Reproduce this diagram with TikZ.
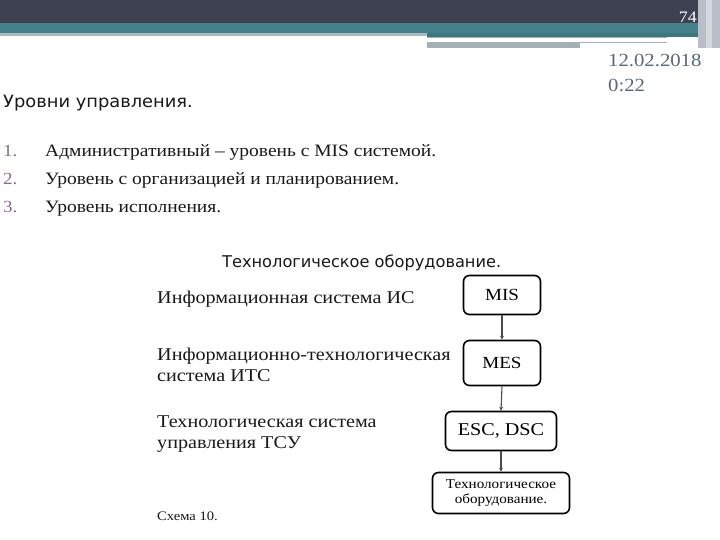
\documentclass[tikz,border=0pt]{standalone}
\usepackage{fontspec}
\setmainfont{Liberation Serif}[FakeStretch=1.12]
\newfontfamily\titlefont{DejaVu Sans}[FakeStretch=1.05]
\newfontfamily\headfont{DejaVu Sans}
\usetikzlibrary{arrows.meta}
\definecolor{hdark}{HTML}{3E4152}
\definecolor{hteal}{HTML}{45818A}
\definecolor{hteal2}{HTML}{3C7780}
\definecolor{hlight}{HTML}{A8BCC0}
\definecolor{hgray}{HTML}{A3B1B5}
\definecolor{hside}{HTML}{B9BEC8}
\definecolor{numcol}{HTML}{8A6A8C}
\definecolor{datecol}{HTML}{5A6A74}
\definecolor{linkcol}{HTML}{4A4A58}
\tikzset{
  txt/.style={anchor=base west, inner sep=0pt, text=black!90},
  listtxt/.style={txt, font=\fontsize{17.4}{20}\selectfont},
  numtxt/.style={txt, text=numcol, font=\fontsize{17}{20}\selectfont},
  lbl/.style={txt, font=\fontsize{18}{21}\selectfont, align=left},
  box/.style={draw=black, line width=1.6pt, rounded corners=6pt, inner sep=0pt, align=center},
  link/.style={draw=linkcol, line width=1.1pt, -{Stealth[length=4pt,width=4pt]}}
}
\begin{document}
\begin{tikzpicture}[x=1pt,y=-1pt]
\useasboundingbox (0,0) rectangle (720,540);
\fill[white] (0,0) rectangle (720,540);
% header
\fill[hdark] (0,0) rectangle (720,23);
\fill[hteal] (0,23) rectangle (720,33);
\fill[hlight] (0,33) rectangle (427,36);
\fill[hteal2] (427,33) rectangle (700,37);
\fill[hgray] (427,37) rectangle (667,38);
\fill[white] (427,38) rectangle (667,42);
\fill[hgray] (427,42) rectangle (667,43);
\fill[hgray] (427,43) rectangle (580,48);
\fill[hside] (698,0) rectangle (720,48);
\fill[hside!60] (706,0) rectangle (712,48);
\node[anchor=base east, inner sep=0pt, text=white, font=\fontsize{16}{18}\selectfont] (pg) at (697,23) {74};
% date
\node[txt, text=datecol, font=\fontsize{18.5}{22}\selectfont] (d1) at (608,67) {12.02.2018};
\node[txt, text=datecol, font=\fontsize{18.5}{22}\selectfont] (d2) at (608,92) {0:22};
% title
\node[txt, font=\titlefont\fontsize{17}{20}\selectfont] (title) at (3,108) {Уровни управления.};
% list
\node[numtxt] (n1) at (3,157) {1.};
\node[listtxt] (l1) at (45,157) {Административный -- уровень с MIS системой.};
\node[numtxt] (n2) at (3,185) {2.};
\node[listtxt] (l2) at (45,185) {Уровень с организацией и планированием.};
\node[numtxt] (n3) at (3,212) {3.};
\node[listtxt] (l3) at (45,212) {Уровень исполнения.};
% heading
\node[txt, font=\headfont\fontsize{16.2}{19}\selectfont] (head) at (222,267) {Технологическое оборудование.};
% left labels
\node[lbl] (a1) at (157,303) {Информационная система ИС};
\node[lbl] (a2) at (157,360) {Информационно-технологическая};
\node[lbl] (a3) at (157,381) {система ИТС};
\node[lbl] (a4) at (157,427) {Технологическая система};
\node[lbl] (a5) at (157,448) {управления ТСУ};
\node[txt, font=\fontsize{13}{15}\selectfont] (s10) at (157,520) {Схема 10.};
% boxes
\node[box, minimum width=77pt, minimum height=39pt, font=\fontsize{17}{20}\selectfont] (mis) at (502,295) {MIS};
\node[box, minimum width=77pt, minimum height=45pt, font=\fontsize{17}{20}\selectfont] (mes) at (502,363) {MES};
\node[box, minimum width=111pt, minimum height=39pt, font=\fontsize{18}{22}\selectfont] (esc) at (501,431) {ESC, DSC};
\node[box, minimum width=137pt, minimum height=41pt, font=\fontsize{13.5}{15.5}\selectfont] (eq) at (501,493) {Технологическое\\оборудование.};
% links
\draw[link] (mis.south) -- (mes.north);
\draw[link] (mes.south) -- (esc.north);
\draw[link] (esc.south) -- (eq.north);
\end{tikzpicture}
\end{document}
